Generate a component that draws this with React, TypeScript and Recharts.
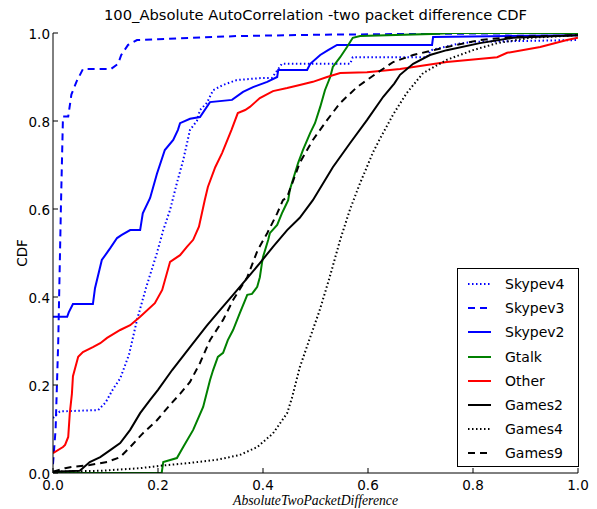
import React from "react";
import { LineChart, Line, XAxis, YAxis } from "recharts";

// axis ticks shared by both axes
const tickValues = [0, 0.2, 0.4, 0.6, 0.8, 1.0];
const tickLabels = ["0.0", "0.2", "0.4", "0.6", "0.8", "1.0"];

// CDF curves (x = packet difference, y = CDF)
const skypev4X = [0, 0.013, 0.086, 0.1, 0.114, 0.128, 0.145, 0.16, 0.177, 0.198, 0.21, 0.223, 0.236, 0.248, 0.261, 0.274, 0.28, 0.293, 0.305, 0.324, 0.35, 0.4, 0.417, 0.436, 0.566, 0.571, 0.712, 0.72, 0.77, 0.8, 1.0];
const skypev4Y = [0.125, 0.14, 0.143, 0.16, 0.19, 0.215, 0.27, 0.348, 0.42, 0.5, 0.552, 0.598, 0.659, 0.711, 0.78, 0.8, 0.825, 0.841, 0.87, 0.882, 0.893, 0.898, 0.898, 0.93, 0.93, 0.945, 0.945, 0.961, 0.975, 0.98, 0.984];

const skypev3X = [0, 0.005, 0.01, 0.015, 0.019, 0.029, 0.035, 0.045, 0.057, 0.11, 0.124, 0.13, 0.143, 0.16, 0.2, 0.35, 0.5, 0.7, 1.0];
const skypev3Y = [0.02, 0.1, 0.3, 0.6, 0.81, 0.81, 0.86, 0.89, 0.918, 0.918, 0.93, 0.95, 0.973, 0.984, 0.986, 0.993, 0.996, 0.998, 1.0];

const skypev2X = [0, 0.027, 0.03, 0.038, 0.076, 0.08, 0.093, 0.109, 0.122, 0.131, 0.147, 0.166, 0.171, 0.185, 0.198, 0.213, 0.229, 0.238, 0.242, 0.261, 0.28, 0.299, 0.341, 0.362, 0.381, 0.408, 0.427, 0.429, 0.484, 0.49, 0.509, 0.524, 0.541, 0.722, 0.724, 1.0];
const skypev2Y = [0.355, 0.355, 0.365, 0.384, 0.384, 0.42, 0.484, 0.511, 0.534, 0.541, 0.552, 0.552, 0.59, 0.625, 0.68, 0.734, 0.757, 0.78, 0.795, 0.805, 0.809, 0.843, 0.848, 0.866, 0.877, 0.889, 0.9, 0.916, 0.916, 0.93, 0.95, 0.961, 0.973, 0.973, 0.991, 0.995];

const gtalkX = [0, 0.11, 0.207, 0.21, 0.236, 0.248, 0.267, 0.286, 0.299, 0.305, 0.314, 0.324, 0.333, 0.343, 0.356, 0.366, 0.37, 0.379, 0.389, 0.394, 0.398, 0.4, 0.41, 0.413, 0.427, 0.436, 0.442, 0.448, 0.451, 0.467, 0.476, 0.49, 0.499, 0.509, 0.518, 0.528, 0.533, 0.547, 0.56, 0.571, 0.585, 0.722, 0.76, 1.0];
const gtalkY = [0, 0, 0, 0.025, 0.034, 0.059, 0.098, 0.15, 0.211, 0.234, 0.264, 0.273, 0.302, 0.325, 0.364, 0.393, 0.405, 0.407, 0.423, 0.445, 0.477, 0.491, 0.53, 0.545, 0.564, 0.59, 0.605, 0.62, 0.643, 0.705, 0.734, 0.773, 0.795, 0.832, 0.87, 0.9, 0.923, 0.945, 0.968, 0.989, 0.993, 0.998, 1.0, 1.0];

const otherX = [0, 0.019, 0.023, 0.029, 0.032, 0.036, 0.038, 0.048, 0.057, 0.076, 0.09, 0.103, 0.128, 0.147, 0.166, 0.194, 0.208, 0.223, 0.242, 0.255, 0.267, 0.278, 0.289, 0.295, 0.309, 0.322, 0.34, 0.352, 0.366, 0.375, 0.394, 0.419, 0.446, 0.47, 0.495, 0.522, 0.547, 0.598, 0.661, 0.75, 0.846, 0.865, 0.928, 0.979, 1.0];
const otherY = [0.045, 0.059, 0.064, 0.082, 0.136, 0.18, 0.22, 0.264, 0.275, 0.286, 0.295, 0.307, 0.325, 0.336, 0.355, 0.386, 0.416, 0.48, 0.495, 0.514, 0.53, 0.56, 0.62, 0.65, 0.695, 0.727, 0.78, 0.818, 0.825, 0.832, 0.852, 0.868, 0.875, 0.882, 0.889, 0.9, 0.909, 0.911, 0.918, 0.934, 0.945, 0.955, 0.968, 0.984, 0.989];

const games2X = [0, 0.051, 0.07, 0.09, 0.109, 0.128, 0.147, 0.166, 0.185, 0.2, 0.227, 0.261, 0.293, 0.318, 0.343, 0.368, 0.394, 0.419, 0.446, 0.47, 0.495, 0.533, 0.566, 0.598, 0.629, 0.65, 0.661, 0.686, 0.718, 0.75, 0.813, 0.876, 1.0];
const games2Y = [0.003, 0.005, 0.025, 0.036, 0.052, 0.068, 0.098, 0.136, 0.166, 0.189, 0.234, 0.286, 0.335, 0.37, 0.405, 0.44, 0.477, 0.514, 0.552, 0.58, 0.62, 0.695, 0.75, 0.802, 0.855, 0.885, 0.905, 0.93, 0.95, 0.961, 0.977, 0.989, 0.995];

const games4X = [0, 0.09, 0.166, 0.217, 0.261, 0.312, 0.356, 0.389, 0.419, 0.446, 0.455, 0.47, 0.488, 0.508, 0.527, 0.547, 0.566, 0.585, 0.61, 0.623, 0.648, 0.674, 0.705, 0.75, 0.8, 0.846, 0.909, 1.0];
const games4Y = [0.003, 0.005, 0.011, 0.018, 0.023, 0.03, 0.041, 0.059, 0.09, 0.136, 0.17, 0.24, 0.302, 0.37, 0.445, 0.53, 0.6, 0.659, 0.73, 0.76, 0.815, 0.864, 0.909, 0.939, 0.961, 0.977, 0.989, 0.995];

const games9X = [0, 0.023, 0.038, 0.07, 0.103, 0.128, 0.147, 0.171, 0.198, 0.223, 0.242, 0.261, 0.28, 0.299, 0.324, 0.343, 0.37, 0.39, 0.408, 0.427, 0.438, 0.446, 0.47, 0.495, 0.522, 0.547, 0.579, 0.617, 0.648, 0.686, 0.75, 0.813, 0.876, 1.0];
const games9Y = [0.003, 0.011, 0.014, 0.018, 0.025, 0.036, 0.059, 0.09, 0.12, 0.155, 0.18, 0.207, 0.25, 0.302, 0.348, 0.393, 0.445, 0.507, 0.545, 0.59, 0.62, 0.627, 0.705, 0.757, 0.802, 0.841, 0.877, 0.909, 0.934, 0.95, 0.968, 0.984, 0.991, 0.995];

const toPoints = (xs: number[], ys: number[]) => xs.map((x, i) => ({ x, y: ys[i] }));

const series = [
  { name: "Skypev4", data: toPoints(skypev4X, skypev4Y), color: "#0000ff", dash: "1.5 2.5" },
  { name: "Skypev3", data: toPoints(skypev3X, skypev3Y), color: "#0000ff", dash: "7 5" },
  { name: "Skypev2", data: toPoints(skypev2X, skypev2Y), color: "#0000ff", dash: undefined },
  { name: "Gtalk", data: toPoints(gtalkX, gtalkY), color: "#008000", dash: undefined },
  { name: "Other", data: toPoints(otherX, otherY), color: "#ff0000", dash: undefined },
  { name: "Games2", data: toPoints(games2X, games2Y), color: "#000000", dash: undefined },
  { name: "Games4", data: toPoints(games4X, games4Y), color: "#000000", dash: "1.5 2.5" },
  { name: "Games9", data: toPoints(games9X, games9Y), color: "#000000", dash: "7 5" },
];

const FONT = "'DejaVu Sans', sans-serif";
const TICK_LEN = 5;

const label = (v: number) => tickLabels[tickValues.indexOf(v)] ?? String(v);

const BottomTick = ({ x, y, payload }: any) => (
  <g>
    <line x1={x} y1={y} x2={x} y2={y - TICK_LEN} stroke="#000" />
    <text x={x} y={y + 17} textAnchor="middle" fontSize={13.5} fontFamily={FONT} fill="#000">
      {label(payload.value)}
    </text>
  </g>
);

const LeftTick = ({ x, y, payload }: any) => (
  <g>
    <line x1={x} y1={y} x2={x + TICK_LEN} y2={y} stroke="#000" />
    <text x={x - 3} y={y + 5.5} textAnchor="end" fontSize={13.5} fontFamily={FONT} fill="#000">
      {label(payload.value)}
    </text>
  </g>
);

const TopTick = ({ x, y }: any) => <line x1={x} y1={y} x2={x} y2={y + TICK_LEN} stroke="#000" />;
const RightTick = ({ x, y }: any) => <line x1={x} y1={y} x2={x - TICK_LEN} y2={y} stroke="#000" />;

function LegendBox() {
  return (
    <div
      style={{
        position: "absolute",
        left: 457,
        top: 268,
        width: 120,
        height: 197,
        border: "1px solid #000",
        background: "#fff",
        fontFamily: FONT,
        fontSize: 14,
      }}
    >
      {series.map((s, i) => (
        <div key={s.name} style={{ position: "absolute", left: 0, top: 4 + i * 24.2, height: 22, width: 120 }}>
          <svg width={40} height={22} style={{ position: "absolute", left: 0, top: 0 }}>
            <line x1={10} y1={11} x2={33} y2={11} stroke={s.color} strokeWidth={2} strokeDasharray={s.dash} />
          </svg>
          <span style={{ position: "absolute", left: 47, top: 2, lineHeight: "18px" }}>{s.name}</span>
        </div>
      ))}
    </div>
  );
}

export default function App() {
  return (
    <div style={{ position: "relative", width: 597, height: 509, background: "#fff" }}>
      <style>{"body{margin:0}"}</style>
      <LineChart width={597} height={509} margin={{ top: 33, right: 19, bottom: 6, left: 13 }}>
        <XAxis
          dataKey="x"
          type="number"
          domain={[0, 1]}
          ticks={tickValues}
          allowDataOverflow
          height={30}
          tickSize={0}
          tickMargin={0}
          tickLine={false}
          axisLine={{ stroke: "#000" }}
          tick={<BottomTick />}
        />
        <XAxis
          xAxisId="top"
          orientation="top"
          dataKey="x"
          type="number"
          domain={[0, 1]}
          ticks={tickValues}
          height={0}
          tickSize={0}
          tickMargin={0}
          tickLine={false}
          axisLine={{ stroke: "#000" }}
          tick={<TopTick />}
        />
        <YAxis
          dataKey="y"
          type="number"
          domain={[0, 1]}
          ticks={tickValues}
          allowDataOverflow
          width={40}
          tickSize={0}
          tickMargin={0}
          tickLine={false}
          axisLine={{ stroke: "#000" }}
          tick={<LeftTick />}
        />
        <YAxis
          yAxisId="right"
          orientation="right"
          type="number"
          domain={[0, 1]}
          ticks={tickValues}
          width={0}
          tickSize={0}
          tickMargin={0}
          tickLine={false}
          axisLine={{ stroke: "#000" }}
          tick={<RightTick />}
        />
        {series.map((s) => (
          <Line
            key={s.name}
            data={s.data}
            dataKey="y"
            name={s.name}
            type="linear"
            stroke={s.color}
            strokeWidth={2}
            strokeDasharray={s.dash}
            dot={false}
            activeDot={false}
            isAnimationActive={false}
          />
        ))}
      </LineChart>
      <div
        style={{
          position: "absolute",
          left: 0,
          top: 6,
          width: 631,
          textAlign: "center",
          fontFamily: FONT,
          fontSize: 14.7,
          whiteSpace: "nowrap",
        }}
      >
        100_Absolute AutoCorrelation -two packet difference CDF
      </div>
      <div
        style={{
          position: "absolute",
          left: 53,
          top: 493.5,
          width: 525,
          textAlign: "center",
          fontFamily: "'Liberation Serif', serif",
          fontStyle: "italic",
          fontSize: 13.7,
          lineHeight: "14px",
        }}
      >
        AbsoluteTwoPacketDifference
      </div>
      <div
        style={{
          position: "absolute",
          left: 22,
          top: 253,
          transform: "translate(-50%, -50%) rotate(-90deg)",
          fontFamily: FONT,
          fontSize: 13.5,
        }}
      >
        CDF
      </div>
      <LegendBox />
    </div>
  );
}
